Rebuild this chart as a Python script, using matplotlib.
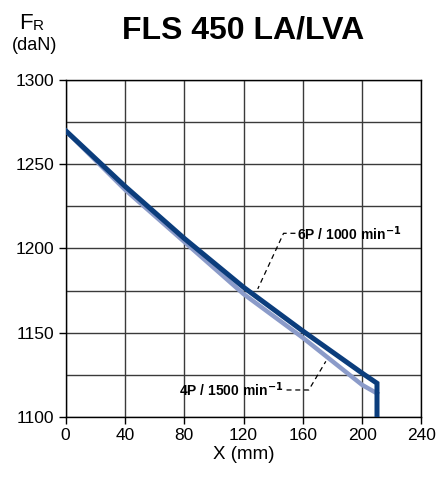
import numpy as np
import matplotlib.pyplot as plt
from matplotlib.ticker import MultipleLocator

plt.rcParams['font.family'] = ['Liberation Sans', 'DejaVu Sans']

# curve data
x_6p = [0, 40, 80, 120, 160, 200, 210, 210]
f_6p = [1270, 1237, 1206, 1177, 1151, 1126, 1120, 1100]
x_4p = [0, 40, 80, 120, 160, 200, 210]
f_4p = [1270, 1235, 1204, 1173, 1147, 1119, 1114]

x_ticks = [0, 40, 80, 120, 160, 200, 240]
y_ticks = [1100, 1150, 1200, 1250, 1300]

dark = '#0b3d7c'
light = '#8b9bc9'

fig = plt.figure(figsize=(4.37, 4.82), dpi=100)
ax = fig.add_axes([0.150, 0.135, 0.8145, 0.699])

ax.plot(x_4p, f_4p, color=light, lw=3.2, solid_joinstyle='miter', zorder=3)
ax.plot(x_6p, f_6p, color=dark, lw=3.6, solid_joinstyle='miter', zorder=4)

# leader lines for labels
ax.plot([155, 147, 129.6], [1209, 1209, 1176], color='black', lw=0.9,
        ls=(0, (4, 3)), zorder=5)
ax.plot([149, 164, 175.5], [1116, 1116, 1133], color='black', lw=0.9,
        ls=(0, (4, 3)), zorder=5)
ax.text(156, 1209, '6P / 1000 min$^{\\mathbf{-1}}$', fontsize=10,
        fontweight='bold', va='center', ha='left')
ax.text(147, 1116, '4P / 1500 min$^{\\mathbf{-1}}$', fontsize=10,
        fontweight='bold', va='center', ha='right')

ax.set_xlim(0, 240)
ax.set_ylim(1100, 1300)
ax.set_xticks(x_ticks)
ax.set_yticks(y_ticks)
ax.yaxis.set_minor_locator(MultipleLocator(25))
ax.tick_params(which='major', direction='out', length=5, width=1,
               labelsize=12.5, pad=3)
ax.tick_params(which='minor', length=0)
ax.grid(True, which='both', color='#3a3a3a', lw=1)
ax.set_axisbelow(True)
for s in ax.spines.values():
    s.set_linewidth(1)
    s.set_color('black')

ax.set_xlabel('X (mm)', fontsize=13.5, labelpad=2)

fig.text(0.060, 0.952, 'F', fontsize=16, ha='center', va='center')
fig.text(0.088, 0.946, 'R', fontsize=11, ha='center', va='center')
fig.text(0.080, 0.905, '(daN)', fontsize=13, ha='center', va='center')
fig.text(0.556, 0.936, 'FLS 450 LA/LVA', fontsize=23, fontweight='bold',
         ha='center', va='center')

fig.savefig('out.png', dpi=100)
